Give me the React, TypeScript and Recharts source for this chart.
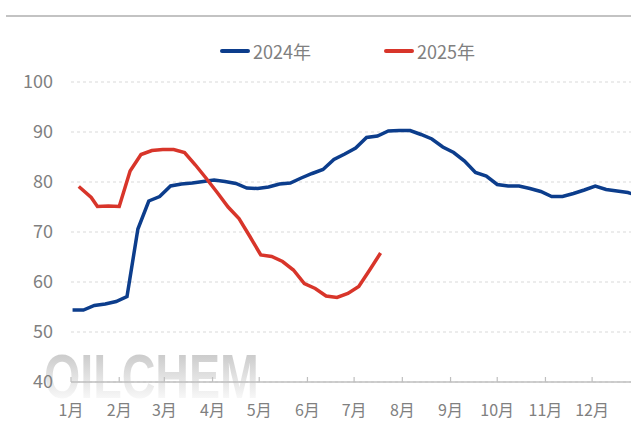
import React from 'react';
import { LineChart, Line, XAxis, YAxis, CartesianGrid, Legend } from 'recharts';

// day of year for each weekly reading
const days2024 = [
  1, 8, 15, 22, 29, 36, 43, 50, 57, 64, 71, 78, 85, 92, 99, 106, 113, 120, 127, 134, 141,
  148, 155, 162, 169, 176, 183, 190, 197, 204, 211, 218, 225, 232, 239, 246, 253, 260, 267,
  274, 281, 288, 295, 302, 309, 316, 323, 330, 337, 344, 351, 358, 365,
];
const values2024 = [
  54.4, 54.4, 55.3, 55.6, 56.1, 57.1, 70.6, 76.2, 77.1, 79.2, 79.6, 79.8, 80.1, 80.4, 80.1,
  79.7, 78.8, 78.7, 79.0, 79.6, 79.8, 80.8, 81.7, 82.5, 84.5, 85.6, 86.8, 88.9, 89.2, 90.2,
  90.3, 90.3, 89.5, 88.6, 87.0, 85.9, 84.2, 81.9, 81.2, 79.5, 79.2, 79.2, 78.7, 78.1, 77.1,
  77.1, 77.7, 78.4, 79.2, 78.5, 78.2, 77.9, 77.2,
];

const days2025 = [
  5, 13, 17, 24, 31, 38, 45, 52, 59, 66, 73, 80, 87, 94, 101, 108, 115, 122, 129, 136, 143,
  150, 157, 164, 171, 178, 185, 192, 199,
];
const values2025 = [
  79.1, 76.9, 75.1, 75.2, 75.1, 82.2, 85.5, 86.3, 86.5, 86.5, 85.9, 83.4, 80.7, 77.9, 75.0,
  72.7, 69.1, 65.4, 65.1, 64.1, 62.4, 59.7, 58.7, 57.2, 56.9, 57.7, 59.1, 62.4, 65.8,
];

const monthStarts = [0, 31, 60, 91, 121, 152, 182, 213, 244, 274, 305, 335];
const monthLabels = ['1月', '2月', '3月', '4月', '5月', '6月', '7月', '8月', '9月', '10月', '11月', '12月'];
const yTicks = [40, 50, 60, 70, 80, 90, 100];

const series = [
  { name: '2024年', color: '#0c3d8c', days: days2024, values: values2024 },
  { name: '2025年', color: '#d8352a', days: days2025, values: values2025 },
];

const FONT = "'Noto Sans CJK SC', 'Noto Sans', sans-serif";
const LABEL = '#808080';

const MonthTick = (props: any) => {
  const { x, y, index } = props;
  return (
    <g>
      <line x1={x} x2={x} y1={y - 5} y2={y} stroke="#bfbfbf" strokeWidth={1.2} />
      <text
        x={x}
        y={y + 27}
        textAnchor="middle"
        dominantBaseline="central"
        fill={LABEL}
        fontSize={16}
        fontFamily={FONT}
      >
        {monthLabels[index]}
      </text>
    </g>
  );
};

const LegendContent = () => (
  <div style={{ display: 'flex', alignItems: 'center', paddingLeft: 220, fontFamily: FONT }}>
    {series.map((s, i) => (
      <div key={s.name} style={{ display: 'flex', alignItems: 'center', marginRight: i === 0 ? 73 : 0 }}>
        <span style={{ width: 30, height: 4, background: s.color, borderRadius: 2, marginRight: 3 }} />
        <span style={{ fontSize: 18, color: LABEL }}>{s.name}</span>
      </div>
    ))}
  </div>
);

export default function App() {
  return (
    <div style={{ position: 'absolute', left: 0, top: 0, width: 631, height: 426, background: '#fff' }}>
      <div style={{ position: 'absolute', left: 6, top: 15, width: 625, height: 2, background: '#c3c3c3' }} />
      {/* watermark */}
      <div
        style={{
          position: 'absolute',
          left: 44,
          top: 353,
          fontFamily: "'Liberation Sans', sans-serif",
          fontWeight: 700,
          fontSize: 63,
          lineHeight: '46px',
          transform: 'scaleX(0.74)',
          transformOrigin: 'left top',
          background: 'linear-gradient(to bottom, #cacaca 0%, #f8f8f8 100%)',
          WebkitBackgroundClip: 'text',
          backgroundClip: 'text',
          color: 'transparent',
          whiteSpace: 'nowrap',
        }}
      >
        OILCHEM
      </div>
      <LineChart
        width={631}
        height={426}
        margin={{ top: 82, right: 0, bottom: 0, left: 0 }}
        style={{ position: 'absolute', left: 0, top: 0 }}
      >
        <CartesianGrid vertical={false} stroke="#d9d9d9" strokeDasharray="3 3" />
        <XAxis
          type="number"
          dataKey="day"
          domain={[0, 360]}
          allowDataOverflow
          ticks={monthStarts}
          interval={0}
          height={44}
          tickSize={0}
          tickMargin={0}
          tickLine={false}
          tick={<MonthTick />}
          axisLine={{ stroke: '#bfbfbf', strokeWidth: 1.5 }}
        />
        <YAxis
          domain={[40, 100]}
          ticks={yTicks}
          width={71}
          axisLine={false}
          tickLine={false}
          tickSize={0}
          tickMargin={18}
          tick={{ fill: LABEL, fontSize: 18, fontFamily: FONT }}
        />
        <Legend
          verticalAlign="middle"
          align="center"
          layout="horizontal"
          wrapperStyle={{ top: 38, left: 0, width: 631 }}
          content={<LegendContent />}
        />
        {series.map((s) => (
          <Line
            key={s.name}
            name={s.name}
            data={s.days.map((d, i) => ({ day: d, value: s.values[i] }))}
            dataKey="value"
            type="linear"
            stroke={s.color}
            strokeWidth={3.5}
            dot={false}
            activeDot={false}
            isAnimationActive={false}
          />
        ))}
      </LineChart>
    </div>
  );
}
